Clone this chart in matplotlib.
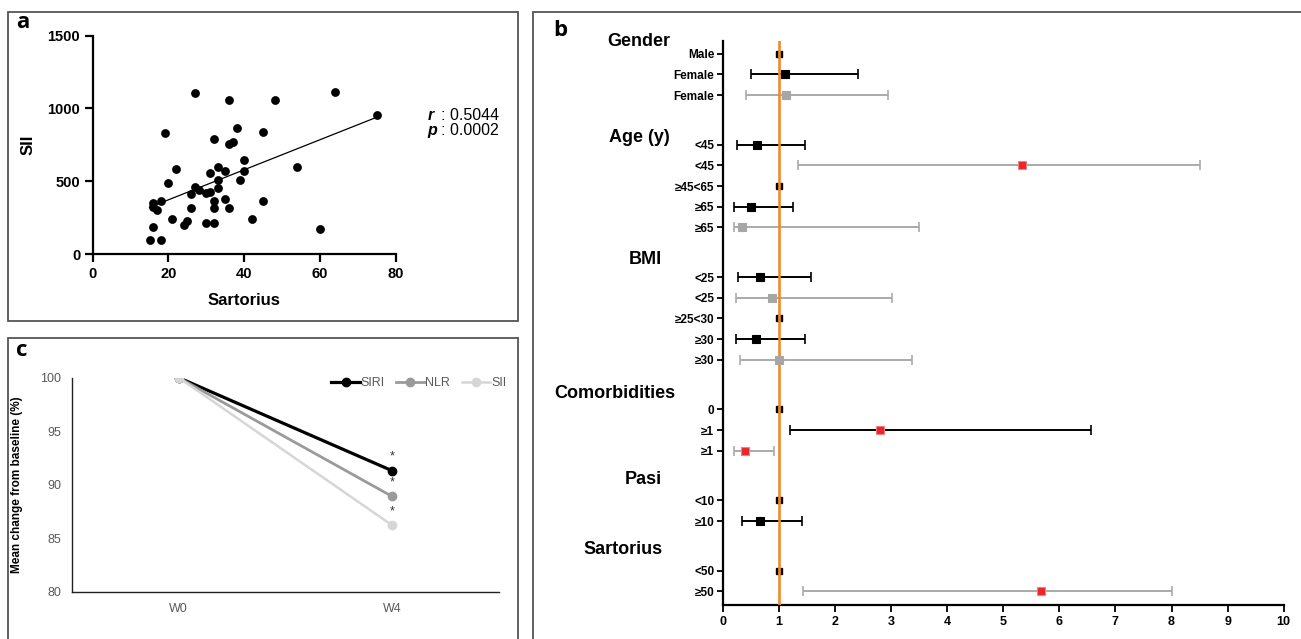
import numpy as np
import matplotlib
matplotlib.use("Agg")
import matplotlib.pyplot as plt
from matplotlib.patches import Rectangle

plt.rcParams['font.family'] = ['Liberation Sans', 'DejaVu Sans']

# ---------------- data: panel a ----------------
sartorius = [27, 64, 36, 48, 75, 19, 45, 38, 32, 36, 37, 40, 22, 33, 35, 40, 54,
             31, 33, 20, 39, 27, 28, 33, 26, 30, 31, 16, 18, 16, 17, 32, 35, 45,
             26, 32, 36, 21, 25, 24, 30, 32, 42, 60, 16, 15, 18]
sii_vals = [1104, 1111, 1056, 1056, 955, 831, 836, 868, 790, 756, 767, 648, 586,
            598, 570, 568, 600, 554, 506, 490, 511, 460, 440, 451, 410, 417, 428,
            353, 362, 325, 302, 366, 378, 366, 316, 316, 318, 240, 224, 199, 215,
            211, 238, 172, 183, 96, 98]
r_text = "0.5044"
p_text = "0.0002"

# ---------------- data: panel b ----------------
group_names = ["Gender", "Age (y)", "BMI", "Comorbidities", "Pasi", "Sartorius"]
group_sizes = [3, 5, 5, 3, 2, 2]
row_labels = ["Male", "Female", "Female",
              "<45", "<45", "≥45<65", "≥65", "≥65",
              "<25", "<25", "≥25<30", "≥30", "≥30",
              "0", "≥1", "≥1",
              "<10", "≥10",
              "<50", "≥50"]
row_kind = ["ref", "uni", "multi",
            "uni", "multi", "ref", "uni", "multi",
            "uni", "multi", "ref", "uni", "multi",
            "ref", "uni", "multi",
            "ref", "uni",
            "ref", "multi"]
or_est = [1.0, 1.11, 1.13,
          0.62, 5.33, 1.0, 0.50, 0.34,
          0.66, 0.87, 1.0, 0.59, 1.01,
          1.0, 2.80, 0.40,
          1.0, 0.67,
          1.0, 5.67]
or_lo = [np.nan, 0.50, 0.42,
         0.26, 1.35, np.nan, 0.20, 0.20,
         0.27, 0.24, np.nan, 0.24, 0.30,
         np.nan, 1.20, 0.20,
         np.nan, 0.35,
         np.nan, 1.44]
or_hi = [np.nan, 2.41, 2.94,
         1.47, 8.50, np.nan, 1.26, 3.50,
         1.57, 3.02, np.nan, 1.46, 3.38,
         np.nan, 6.56, 0.91,
         np.nan, 1.41,
         np.nan, 8.00]
significant = [False, False, False,
               False, True, False, False, False,
               False, False, False, False, False,
               False, True, True,
               False, False,
               False, True]
b_xticks = list(range(0, 11))

# ---------------- data: panel c ----------------
weeks = ["W0", "W4"]
siri_c = [100, 91.3]
nlr_c = [100, 88.9]
sii_c = [100, 86.2]
c_yticks = [80, 85, 90, 95, 100]

# ---------------- layout helpers ----------------
W, H = 1301, 639
fig = plt.figure(figsize=(W / 100, H / 100), dpi=100)


def box(l, t, r, b):
    return [l / W, 1 - b / H, (r - l) / W, (b - t) / H]


def ftext(x, y, s, **kw):
    fig.text(x / W, 1 - y / H, s, **kw)


def frame(l, t, r, b):
    fig.add_artist(Rectangle((l / W, 1 - b / H), (r - l) / W, (b - t) / H,
                             transform=fig.transFigure, fill=False,
                             ec='#555555', lw=1.3, clip_on=False))


frame(7.6, 12, 518, 320.8)
frame(7.6, 338, 518, 660)
frame(533, 12, 1310, 660)

label_font = dict(family=['Open Sans', 'DejaVu Sans'], fontweight='bold', fontsize=16,
                  ha='center', va='center')
ftext(23, 22, 'a', **label_font)
ftext(560, 31, 'b', **label_font)
ftext(22, 350, 'c', **label_font)

# ---------------- panel a ----------------
axa = fig.add_axes(box(92.7, 35.7, 395.7, 254))
axa.scatter(sartorius, sii_vals, s=40, color='black', zorder=3, linewidths=0)
xs = np.array(sartorius, dtype=float)
ys = np.array(sii_vals, dtype=float)
k, b0 = np.polyfit(xs, ys, 1)
xl = np.array([xs.min(), xs.max()])
axa.plot(xl, k * xl + b0, color='black', lw=0.9, zorder=2)
axa.set_xlim(0, 80)
axa.set_ylim(0, 1500)
axa.set_xticks([0, 20, 40, 60, 80])
axa.set_yticks([0, 500, 1000, 1500])
for sp in ['top', 'right']:
    axa.spines[sp].set_visible(False)
for sp in ['left', 'bottom']:
    axa.spines[sp].set_linewidth(1.6)
axa.tick_params(direction='out', length=6, width=1.6, labelsize=10.5, pad=3)
for t in axa.get_xticklabels() + axa.get_yticklabels():
    t.set_fontweight('bold')
axa.set_xlabel('Sartorius', fontsize=12, fontweight='bold')
axa.set_ylabel('SII', fontsize=12, fontweight='bold')
axa.xaxis.set_label_coords(0.5, -0.18)
axa.yaxis.set_label_coords(-0.19, 0.5)
ftext(428, 116, 'r', fontsize=11.5, fontweight='bold', style='italic', va='center')
ftext(441, 116, ': ' + r_text, fontsize=11.5, va='center')
ftext(427, 130, 'p', fontsize=11.5, fontweight='bold', style='italic', va='center')
ftext(441, 130, ': ' + p_text, fontsize=11.5, va='center')

# ---------------- panel c ----------------
axc = fig.add_axes(box(72, 377.7, 499, 591.7))
xc = np.arange(len(weeks))
series_c = [("SIRI", siri_c, '#000000', 2.3),
            ("NLR", nlr_c, '#9a9a9a', 2.0),
            ("SII", sii_c, '#d6d6d6', 1.8)]
for name, vals, col, lw in series_c:
    axc.plot(xc, vals, color=col, lw=lw, marker='o', ms=6, label=name, zorder=3)
    axc.annotate('*', (xc[-1], vals[-1]), xytext=(0, 6), textcoords='offset points',
                 ha='center', va='bottom', fontsize=9, color='#333333')
axc.set_xlim(-0.5, 1.5)
axc.set_ylim(80, 100)
axc.set_xticks(xc)
axc.set_xticklabels(weeks)
axc.set_yticks(c_yticks)
for sp in ['top', 'right']:
    axc.spines[sp].set_visible(False)
for sp in ['left', 'bottom']:
    axc.spines[sp].set_linewidth(1.0)
    axc.spines[sp].set_color('#222222')
axc.tick_params(length=0, labelsize=9, labelcolor='#595959', pad=8)
axc.set_ylabel('Mean change from baseline (%)', fontsize=8.5, fontweight='bold', labelpad=12)
leg = axc.legend(ncol=3, frameon=False, loc='center', bbox_to_anchor=(0.812, 0.975),
                 fontsize=9, handlelength=2.3, handletextpad=0.05, columnspacing=0.9,
                 labelcolor='#595959')

# ---------------- panel b ----------------
axb = fig.add_axes(box(722.7, 40.7, 1283.7, 605))
ypos = []
y = 0.0
for gi, n in enumerate(group_sizes):
    if gi > 0:
        y += 1.4
    for j in range(n):
        ypos.append(y)
        y += 1
ypos = np.array(ypos)

axb.axvline(1, color='#f08a2c', lw=1.9, zorder=4)
for i in range(len(row_labels)):
    kind = row_kind[i]
    if kind == 'ref':
        axb.plot([or_est[i]], [ypos[i]], marker='s', ms=5, color='black', zorder=3,
                 linestyle='none')
        continue
    col = 'black' if kind == 'uni' else '#aaaaaa'
    mcol = col if kind == 'uni' else '#a6a6a6'
    if significant[i]:
        mcol = '#e8262b'
    axb.errorbar([or_est[i]], [ypos[i]],
                 xerr=[[or_est[i] - or_lo[i]], [or_hi[i] - or_est[i]]],
                 fmt='none', ecolor=col, elinewidth=1.4, capsize=3.5, capthick=1.2,
                 zorder=2)
    ms = 6.2 if significant[i] else 5.4
    axb.plot([or_est[i]], [ypos[i]], marker='s', ms=ms, color=mcol,
             mec='#f08080' if significant[i] else mcol, mew=0.8, linestyle='none', zorder=5)

axb.set_xlim(0, 10)
axb.set_ylim(ypos[-1] + 0.66, -0.63)
axb.set_xticks(b_xticks)
axb.set_yticks(ypos)
axb.set_yticklabels(row_labels)
for sp in ['top', 'right']:
    axb.spines[sp].set_visible(False)
for sp in ['left', 'bottom']:
    axb.spines[sp].set_linewidth(1.6)
axb.tick_params(axis='y', direction='out', length=4, width=1.3, labelsize=8.5, pad=2)
axb.tick_params(axis='x', direction='out', length=5, width=1.3, labelsize=9, pad=3)
for t in axb.get_xticklabels() + axb.get_yticklabels():
    t.set_fontweight('bold')

header_pos = [(638.5, 41), (639, 137), (645, 259), (614.5, 393), (643.5, 479), (623, 549)]
for name, (hx, hy) in zip(group_names, header_pos):
    ftext(hx, hy, name, fontsize=13, fontweight='bold', ha='center', va='center')

fig.savefig('out.png', dpi=100)
